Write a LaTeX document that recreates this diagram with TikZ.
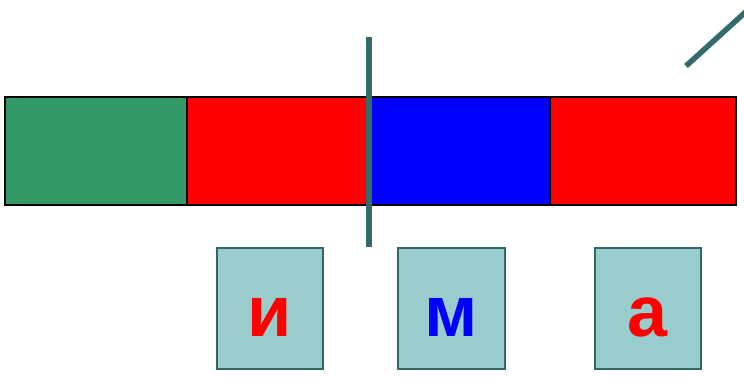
\documentclass[tikz,border=0pt]{standalone}
\usepackage{fontspec}
\setmainfont{Liberation Sans}
\definecolor{segGreen}{HTML}{339966}
\definecolor{tealLine}{HTML}{336B6B}
\definecolor{cardFill}{HTML}{99CCCC}
\definecolor{cardEdge}{HTML}{336666}
\begin{document}
\begin{tikzpicture}[x=1pt,y=-1pt,
  seg/.style={draw=black,line width=1.5pt},
  card/.style={draw=cardEdge,fill=cardFill,line width=1.6pt},
  letter/.style={font=\fontsize{72}{72}\selectfont\bfseries,anchor=base,inner sep=0pt},
  bar/.style={draw=tealLine,line width=5.5pt}]
\useasboundingbox (0,0) rectangle (744,377);
\clip (0,0) rectangle (744,377);
\fill[segGreen] (5,97) rectangle (187,205);
\fill[red] (187,97) rectangle (368,205);
\fill[blue] (368,97) rectangle (550,205);
\fill[red] (550,97) rectangle (736,205);
\draw[seg] (5,97) rectangle (736,205);
\draw[seg] (187,97) -- (187,205);
\draw[seg] (368,97) -- (368,205);
\draw[seg] (550,97) -- (550,205);
\coordinate (vtop) at (369,37);
\coordinate (vbot) at (369,247);
\draw[bar] (vtop) -- (vbot);
\coordinate (dA) at (686,66);
\coordinate (dB) at (750,8);
\draw[bar] (dA) -- (dB);
\draw[card] (217,248) rectangle (323,369);
\draw[card] (398,248) rectangle (505,369);
\draw[card] (595,248) rectangle (701,369);
\node[letter,text=red] (l1) at (270,336) {и};
\node[letter,text=blue] (l2) at (451.5,336) {м};
\node[letter,text=red] (l3) at (648,336) {а};
\end{tikzpicture}
\end{document}
